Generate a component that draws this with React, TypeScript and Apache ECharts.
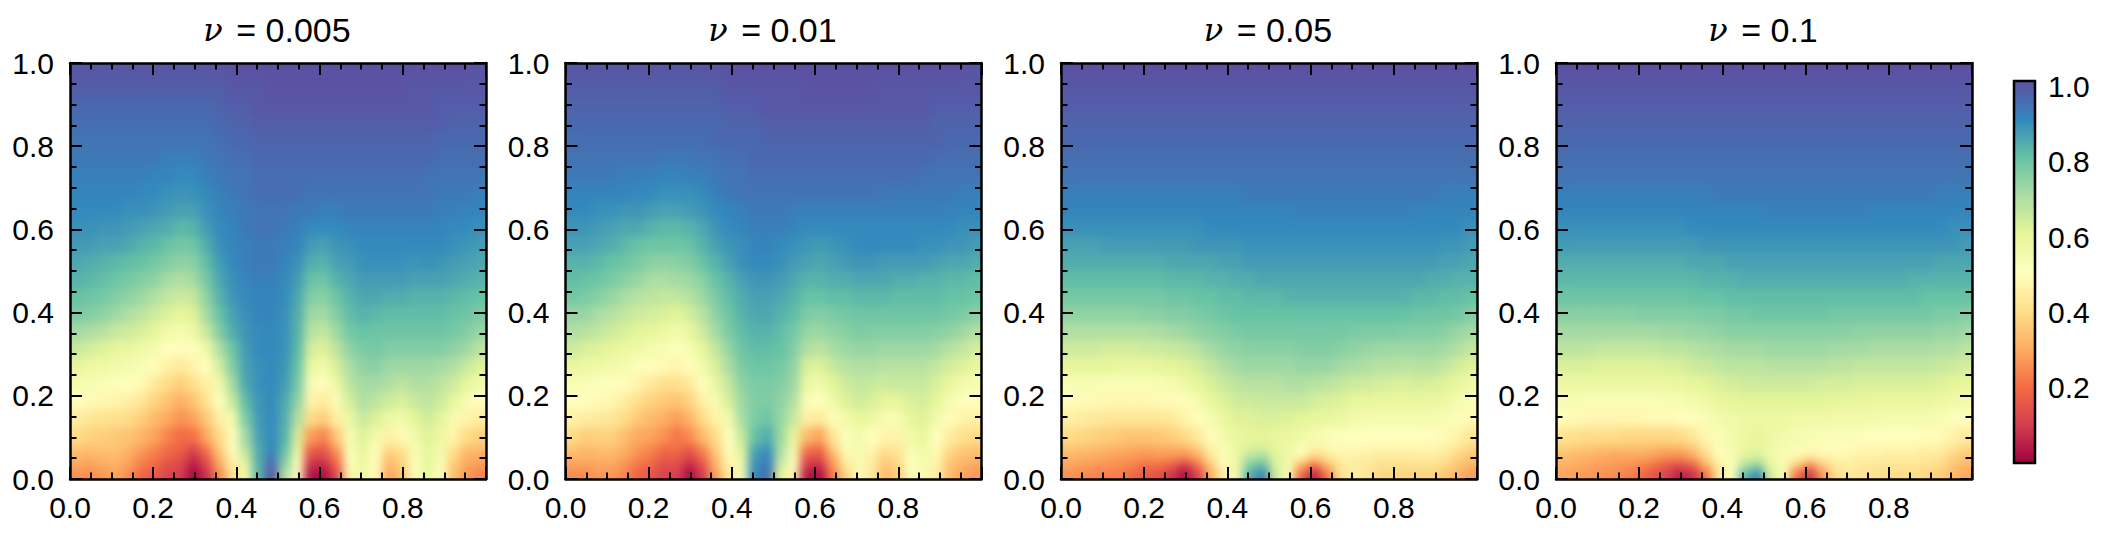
import React, { useEffect, useRef } from "react";
import * as echarts from "echarts";

const titles = ["0.005", "0.01", "0.05", "0.1"];
const colorStops = ["#9e0142", "#d53e4f", "#f46d43", "#fdae61", "#fee08b", "#ffffbf", "#e6f598", "#abdda4", "#66c2a5", "#3288bd", "#5e4fa2"];

// Percent values, rows from y = 1 (top) down to y = 0, 32 columns from x = 0.
// The 22 upper rows are 1/24 tall, the 4 lowest rows 1/48 tall.
const rowHeights = [2, 2, 2, 2, 2, 2, 2, 2, 2, 2, 2, 2, 2, 2, 2, 2, 2, 2, 2, 2, 2, 2, 1, 1, 1, 1];

const panelA = [
[100,100,100,100,100,100,100,100,100,100,100,100,101,101,101,101,101,101,101,101,101,101,101,101,101,101,101,101,101,101,101,100],
[99,99,99,99,99,99,99,99,99,99,99,99,100,100,100,101,101,101,101,101,101,101,101,101,101,101,100,100,100,100,100,100],
[97,97,97,97,97,97,97,97,97,97,97,98,99,99,100,100,100,100,100,100,100,100,100,100,100,100,100,100,99,99,99,99],
[96,96,96,96,96,96,96,96,96,96,96,97,98,98,99,99,99,99,99,99,99,99,99,99,99,99,99,99,99,98,98,98],
[95,95,95,95,95,95,95,95,95,95,95,96,97,97,98,98,98,98,98,98,98,98,98,98,98,98,98,98,97,97,97,97],
[94,94,94,94,94,94,94,93,93,93,94,95,96,96,97,97,97,97,97,97,97,97,97,97,97,97,97,97,96,96,96,96],
[93,93,93,93,93,93,92,92,91,91,93,94,95,95,96,96,96,96,96,96,96,96,96,96,96,96,96,95,95,95,95,95],
[92,92,92,92,92,91,91,90,89,90,91,93,94,95,96,96,96,96,95,95,95,95,95,95,95,95,95,95,94,94,94,93],
[91,91,91,91,90,90,89,88,87,87,90,92,93,94,95,95,95,94,94,93,93,94,94,94,94,94,94,94,93,93,92,92],
[90,90,89,89,88,87,86,85,83,84,88,91,92,94,95,95,94,93,91,91,91,92,92,92,92,92,92,92,92,91,91,90],
[88,88,87,87,86,84,83,81,79,80,85,90,92,93,94,94,93,92,88,87,89,90,91,91,91,91,91,91,91,90,89,88],
[86,85,84,83,82,81,79,77,75,76,82,88,91,93,94,94,92,90,85,84,87,88,90,90,90,90,89,90,89,88,87,86],
[84,83,82,80,79,77,75,72,70,72,79,86,90,92,93,93,91,88,81,80,84,86,88,88,88,88,87,87,87,86,85,84],
[81,80,79,77,75,73,70,67,65,67,75,84,89,91,92,92,91,86,77,76,80,84,86,86,85,85,84,84,84,83,82,81],
[78,77,75,73,70,68,65,62,60,62,72,81,87,90,92,92,90,85,73,72,77,82,84,83,82,82,82,82,82,81,80,78],
[72,71,69,66,65,63,60,56,55,57,66,77,85,89,91,91,90,84,69,67,73,79,81,80,80,80,80,80,80,79,77,74],
[66,64,62,60,59,57,55,51,50,52,57,70,80,88,91,91,90,83,64,62,68,75,78,79,77,77,77,77,77,75,73,68],
[60,58,57,56,55,53,50,46,44,47,51,64,77,87,90,91,89,81,59,56,63,71,75,76,73,73,73,73,72,70,66,62],
[55,54,53,52,51,49,44,40,37,41,46,56,72,86,90,91,88,79,53,50,58,68,72,72,70,68,70,70,68,65,60,56],
[50,49,48,47,46,43,38,35,31,35,42,51,66,82,89,91,86,75,47,44,53,64,70,68,65,63,66,68,65,60,54,50],
[45,43,42,41,40,37,33,30,26,29,36,46,56,78,88,91,85,70,40,37,46,58,66,63,58,56,61,65,61,54,47,45],
[40,38,37,36,35,32,29,24,20,21,30,40,50,72,87,91,84,64,28,24,36,54,62,56,46,49,56,62,58,47,40,38],
[35,34,35,35,32,28,24,20,18,12,22,37,50,69,85,92,82,58,18,16,28,53,60,51,39,42,54,60,55,42,34,33],
[32,31,32,33,30,25,22,18,15,8,17,33,49,64,85,94,79,55,13,12,23,52,59,50,35,39,53,60,55,39,31,30],
[29,28,30,31,28,22,19,14,12,4,12,29,45,60,84,97,75,52,7,6,18,50,58,50,32,37,52,60,53,36,29,27],
[26,25,27,29,25,19,16,11,10,1,8,25,41,56,84,100,70,49,3,2,13,47,58,50,29,34,52,60,52,34,27,24],
];

const panelB = [
[100,100,100,100,100,100,100,100,100,100,100,100,101,101,101,101,101,101,101,101,101,101,101,101,101,101,101,101,101,101,101,100],
[99,99,99,99,99,99,99,99,99,99,99,99,100,100,100,100,100,100,101,101,101,101,101,101,100,100,100,100,100,100,100,100],
[98,98,98,98,98,98,98,98,98,98,98,98,99,99,99,100,100,100,100,100,100,100,100,100,100,100,100,100,99,99,99,99],
[97,97,97,97,97,97,97,97,97,97,97,97,98,98,98,99,99,99,99,99,99,99,99,99,99,99,99,99,98,98,98,98],
[96,96,96,96,96,96,96,96,96,96,96,97,97,97,97,98,98,98,98,98,98,98,98,98,98,98,98,98,98,97,97,97],
[95,95,95,95,95,95,95,94,94,94,95,95,96,96,97,97,97,97,97,97,97,97,97,97,97,97,97,97,96,96,96,96],
[94,94,94,94,93,93,93,92,92,93,93,94,95,95,96,96,96,96,96,96,96,96,96,96,96,96,96,95,95,95,95,95],
[92,92,92,92,92,91,91,90,90,90,91,93,94,95,95,95,95,95,95,95,95,95,95,95,94,94,94,94,94,94,93,93],
[91,91,90,90,89,89,88,87,87,88,89,91,92,93,94,94,94,93,93,93,93,93,93,93,93,93,93,93,93,92,92,92],
[89,89,88,87,86,86,84,83,83,84,86,89,91,92,93,93,93,92,91,91,91,91,91,91,91,91,91,91,91,91,90,90],
[87,87,86,85,83,81,80,80,80,81,84,87,89,90,92,92,91,90,89,88,89,90,91,91,91,91,91,90,90,89,89,88],
[84,84,83,81,80,78,76,75,76,77,81,84,87,90,91,91,90,88,87,86,87,88,89,89,88,88,88,88,87,86,86,85],
[82,81,80,78,76,74,71,71,72,73,76,81,84,87,89,89,88,86,84,84,85,85,86,86,86,85,85,84,84,83,83,82],
[79,78,76,74,71,69,68,67,67,69,73,78,82,85,87,87,86,84,81,81,82,82,83,83,83,82,82,82,82,81,81,80],
[74,74,71,69,67,65,64,63,61,64,69,75,80,84,86,86,84,82,78,77,78,79,80,80,80,80,80,80,80,79,78,76],
[70,69,67,65,63,61,60,58,56,59,65,72,78,82,84,84,82,79,74,73,75,76,78,77,77,77,77,77,76,75,73,70],
[65,63,62,60,58,57,55,54,52,54,60,67,74,80,82,82,81,77,70,68,71,73,74,74,73,73,73,73,72,69,67,64],
[59,58,57,56,55,52,50,49,47,50,56,63,71,78,80,80,79,75,63,62,66,69,70,70,69,69,69,69,67,64,62,59],
[54,53,52,52,50,47,44,41,41,44,51,59,67,75,78,78,77,73,58,56,61,65,67,66,65,66,66,66,63,59,56,54],
[50,50,49,48,45,41,38,36,35,38,46,54,63,73,77,78,75,70,53,51,57,62,65,63,60,60,63,64,60,55,52,50],
[46,45,44,43,40,36,33,31,28,32,40,47,56,71,78,80,74,66,46,44,52,56,60,58,54,54,60,62,56,50,47,46],
[40,37,38,38,34,30,29,26,22,25,33,40,51,66,81,85,73,60,33,29,43,52,56,51,47,47,57,59,51,45,41,40],
[35,33,34,34,31,27,24,20,20,16,25,37,50,62,86,90,71,55,22,19,36,49,55,48,42,43,54,57,49,40,36,35],
[32,31,32,32,29,25,22,17,17,12,20,34,49,59,88,92,69,53,16,14,30,47,55,46,38,41,52,56,48,37,34,33],
[28,28,29,29,26,21,18,13,13,6,14,31,47,56,90,94,65,50,9,7,26,43,54,45,35,38,51,55,47,35,31,29],
[25,25,27,27,24,18,16,11,11,2,10,28,43,54,92,96,60,47,4,2,22,38,54,44,33,36,50,55,45,33,29,27],
];

const panelC = [
[101,101,101,101,101,101,101,101,101,101,101,101,101,101,101,101,101,101,101,101,101,101,101,101,101,101,101,101,101,101,101,101],
[100,100,100,100,100,100,100,100,100,100,100,100,100,100,100,100,100,100,100,100,100,100,100,100,100,100,100,100,100,100,100,100],
[99,99,99,99,99,99,99,99,99,99,99,99,99,99,99,99,99,99,99,99,99,99,99,99,99,99,99,99,99,99,99,99],
[98,98,98,98,98,98,98,98,98,98,98,98,98,98,98,98,98,98,98,98,98,98,98,98,98,98,98,98,98,98,98,98],
[97,97,97,97,97,97,97,97,97,97,97,97,97,97,97,97,97,97,97,97,97,97,97,97,97,97,97,97,97,97,97,97],
[96,96,96,96,96,96,96,96,96,96,96,96,96,96,96,96,96,96,96,96,96,96,96,96,96,96,96,96,96,96,96,96],
[95,95,95,95,95,95,95,95,95,95,95,95,95,95,95,95,95,95,95,95,95,95,95,95,95,95,95,95,95,95,95,95],
[93,93,93,93,93,93,93,93,93,93,93,93,93,93,94,94,94,94,94,94,94,94,94,94,94,94,94,94,94,93,93,93],
[92,92,92,92,92,92,92,92,92,92,92,92,92,92,92,92,92,92,93,93,93,93,93,93,93,93,93,92,92,92,92,92],
[90,90,90,90,90,90,90,90,90,90,90,91,91,91,91,91,91,91,91,91,91,91,91,91,91,91,91,91,91,91,91,90],
[87,87,87,88,88,88,88,88,88,88,89,89,89,89,90,90,90,90,90,90,90,90,90,90,90,90,90,90,90,89,89,88],
[85,85,85,85,85,85,85,85,86,86,86,86,87,87,88,88,88,88,88,88,88,88,88,88,88,88,88,88,88,87,87,86],
[82,82,82,82,82,82,82,82,83,83,83,84,84,85,85,86,86,86,86,86,86,86,86,86,86,86,86,86,85,85,84,84],
[79,79,79,79,79,79,79,79,80,80,81,81,82,82,83,83,83,84,84,84,84,84,84,84,84,84,84,83,83,82,82,81],
[75,75,75,75,75,75,76,76,77,77,78,79,80,81,81,81,81,81,81,81,81,81,81,81,81,81,81,80,80,80,79,77],
[70,70,70,70,70,70,70,71,72,73,75,76,77,78,79,79,79,79,79,79,79,79,78,78,78,78,77,77,77,76,74,72],
[65,65,65,64,64,64,65,65,66,67,69,72,74,75,76,76,76,76,77,77,77,76,75,74,73,73,73,73,73,72,70,67],
[60,60,60,60,59,59,59,60,61,62,64,67,70,72,73,73,73,73,74,74,74,72,71,70,69,69,68,69,69,67,64,62],
[54,54,54,53,53,53,53,54,55,57,60,63,66,68,69,69,69,70,70,69,68,67,65,65,64,63,63,64,63,62,59,57],
[50,49,49,48,48,48,48,49,49,52,55,59,62,65,65,66,66,66,66,64,63,62,60,60,59,59,59,59,59,58,55,53],
[46,45,44,43,43,43,43,43,44,47,50,54,59,62,62,63,63,62,61,60,59,58,56,55,55,55,55,55,55,54,52,49],
[40,39,38,37,36,35,35,36,37,40,44,50,56,59,60,61,60,59,57,55,53,52,51,51,51,51,51,51,50,49,47,43],
[35,34,33,32,31,30,29,30,30,31,36,46,53,58,63,64,59,57,51,46,48,49,49,48,47,47,47,47,47,46,42,38],
[32,31,30,29,28,27,26,27,26,25,30,42,52,59,69,72,62,57,47,37,43,46,46,45,44,44,44,45,45,43,38,35],
[29,28,27,26,25,23,20,20,16,9,19,36,49,57,78,83,63,55,30,20,32,44,45,44,41,41,41,41,41,39,35,31],
[26,25,24,23,23,19,16,14,9,2,11,30,45,55,85,93,65,53,18,5,22,41,45,43,39,38,38,38,38,35,32,28],
];

const panelD = [
[101,101,101,101,101,101,101,101,101,101,101,101,101,101,101,101,101,101,101,101,101,101,101,101,101,101,101,101,101,101,101,101],
[100,100,100,100,100,100,100,100,100,100,100,100,100,100,100,100,100,100,100,100,100,100,100,100,100,100,100,100,100,100,100,100],
[99,99,99,99,99,99,99,99,99,99,99,99,99,99,99,99,99,99,99,99,99,99,99,99,99,99,99,99,99,99,99,99],
[98,98,98,98,98,98,98,98,98,98,98,98,98,98,98,98,98,98,98,98,98,98,98,98,98,98,98,98,98,98,98,98],
[97,97,97,97,97,97,97,97,97,97,97,97,97,97,97,97,97,97,97,97,97,97,97,97,97,97,97,97,97,97,97,97],
[96,96,96,96,96,96,96,96,96,96,96,96,96,96,96,96,96,96,96,96,96,96,96,96,96,96,96,96,96,96,96,96],
[95,95,95,95,95,95,95,95,95,95,95,95,95,95,95,95,95,95,95,95,95,95,95,95,95,95,95,95,95,95,95,95],
[93,93,93,93,93,93,93,93,93,93,93,93,94,94,94,94,94,94,94,94,94,94,94,94,94,94,94,94,94,93,93,93],
[92,92,92,92,92,92,92,92,92,92,92,92,92,92,92,92,93,93,93,93,93,93,93,93,92,92,92,92,92,92,92,92],
[90,90,90,90,90,90,90,90,90,90,91,91,91,91,91,91,91,91,91,91,91,91,91,91,91,91,91,91,91,91,90,90],
[88,88,88,88,88,88,88,88,88,88,88,89,89,89,89,89,89,89,89,89,89,89,89,89,89,89,89,89,89,89,89,88],
[85,85,85,85,85,85,85,85,85,85,86,86,86,87,87,87,87,87,87,87,87,87,87,87,87,87,87,87,87,86,86,86],
[83,83,83,83,83,83,83,83,83,83,83,84,84,84,85,85,85,85,85,85,85,85,85,85,85,85,85,84,84,84,84,84],
[80,80,80,80,80,80,80,80,80,80,81,81,81,82,82,82,82,82,82,82,82,82,82,82,82,82,82,82,81,81,81,81],
[76,76,76,76,76,76,77,77,77,77,77,78,78,79,79,80,80,80,80,80,80,79,79,79,79,79,79,79,79,78,78,77],
[72,72,72,72,72,72,72,72,73,73,74,74,75,76,76,76,76,76,76,76,76,76,76,75,75,75,75,75,75,74,74,73],
[68,68,68,67,67,67,67,67,68,68,69,70,71,72,72,72,73,73,73,73,73,72,72,72,71,71,71,71,71,70,70,68],
[63,63,63,62,62,62,62,62,63,63,65,66,67,68,68,68,69,69,69,69,69,68,68,67,67,67,67,67,67,66,65,64],
[58,58,58,58,58,58,58,58,58,59,60,61,63,64,65,65,65,65,65,65,64,64,64,63,63,63,63,63,63,62,61,60],
[54,54,53,53,53,53,53,53,54,54,56,57,59,60,61,61,61,61,61,61,61,60,60,60,59,59,59,59,59,58,57,56],
[50,49,48,48,48,48,48,49,49,50,51,53,56,57,58,58,58,58,57,57,57,56,56,56,56,55,55,55,55,54,52,51],
[42,41,40,40,40,39,39,39,39,40,43,48,53,56,58,60,58,56,55,54,53,53,53,52,51,51,51,51,50,49,47,44],
[37,36,35,34,33,33,33,32,31,31,35,43,51,55,59,60,57,54,52,49,50,50,50,48,48,47,47,47,46,46,42,39],
[33,32,31,30,29,29,29,28,25,25,29,39,49,53,62,64,57,54,48,44,46,48,47,46,46,45,45,45,44,43,38,35],
[31,30,29,28,27,26,24,20,16,12,16,30,45,52,70,76,60,54,36,24,35,44,45,44,43,42,42,42,41,40,35,32],
[29,28,27,26,25,23,20,15,11,5,8,20,42,52,83,92,64,54,20,8,27,40,44,42,41,40,40,40,39,37,33,29],
];

const panels = [panelA, panelB, panelC, panelD];
const plotLefts = [70, 565.5, 1061, 1556];
const plotTop = 63;
const plotSize = 416;
const PAD_PX = 24;
const VMAX = 1.015;
const font = "'Liberation Sans', Arial, sans-serif";

function heatOption(rows: number[][]) {
  const nCol = rows[0].length;
  const pad = PAD_PX / plotSize;
  const unit = rowHeights.reduce((a, b) => a + b, 0);
  const data: number[][] = [];
  let top = 1;
  rows.forEach((row, r) => {
    const bottom = top - rowHeights[r] / unit;
    row.forEach((v, c) => {
      const x0 = c === 0 ? -pad : c / nCol;
      const x1 = c === nCol - 1 ? 1 + pad : (c + 1) / nCol;
      const y0 = r === rows.length - 1 ? -pad : bottom;
      const y1 = r === 0 ? 1 + pad : top;
      data.push([x0, x1, y0, y1, v / 100]);
    });
    top = bottom;
  });
  return {
    animation: false,
    grid: { left: 0, right: 0, top: 0, bottom: 0 },
    xAxis: { type: "value", min: -pad, max: 1 + pad, show: false },
    yAxis: { type: "value", min: -pad, max: 1 + pad, show: false },
    visualMap: { show: false, min: 0, max: VMAX, dimension: 4, seriesIndex: 0, inRange: { color: colorStops } },
    series: [
      {
        type: "custom",
        silent: true,
        clip: false,
        data,
        encode: { x: [0, 1], y: [2, 3] },
        renderItem: (_: any, api: any) => {
          const a = api.coord([api.value(0), api.value(3)]);
          const b = api.coord([api.value(1), api.value(2)]);
          return {
            type: "rect",
            shape: { x: a[0], y: a[1], width: b[0] - a[0] + 1, height: b[1] - a[1] + 1 },
            style: { fill: api.visual("color"), stroke: "none" },
          };
        },
      },
    ],
  };
}

function frameOption() {
  const grids: any[] = [];
  const xAxes: any[] = [];
  const yAxes: any[] = [];
  const series: any[] = [];
  const title: any[] = [];
  const tick = { show: true, inside: true, length: 12, lineStyle: { color: "#000", width: 2 } };
  const minor = { show: true, splitNumber: 4, length: 6.5, lineStyle: { color: "#000", width: 2 } };
  const line = { show: true, onZero: false, lineStyle: { color: "#000", width: 2.5 } };
  const label = { color: "#000", fontSize: 30, fontFamily: font, margin: 13 };
  plotLefts.forEach((left, i) => {
    grids.push({ left, top: plotTop, width: plotSize, height: plotSize });
    const base = { type: "value", min: 0, max: 1, interval: 0.2, gridIndex: i, axisLine: line, axisTick: tick, minorTick: minor, splitLine: { show: false } };
    xAxes.push({ ...base, position: "bottom", axisLabel: { ...label, formatter: (v: number) => (v > 0.9 ? "" : v.toFixed(1)) } });
    xAxes.push({ ...base, position: "top", axisLabel: { show: false } });
    yAxes.push({ ...base, position: "left", axisLabel: { ...label, margin: 16, padding: [5, 0, 0, 0], formatter: (v: number) => v.toFixed(1) } });
    yAxes.push({ ...base, position: "right", axisLabel: { show: false } });
    series.push({ type: "line", xAxisIndex: i * 2, yAxisIndex: i * 2, data: [], silent: true });
    title.push({
      text: "{i|ν} = " + titles[i],
      left: left + plotSize / 2 - 6,
      top: 8,
      textAlign: "center",
      textStyle: {
        color: "#000",
        fontSize: 34,
        fontWeight: "normal",
        fontFamily: font,
        rich: { i: { fontFamily: "'DejaVu Serif', serif", fontStyle: "italic", fontSize: 32, color: "#000", padding: [0, 4, 0, 0] } },
      },
    });
  });
  // colour bar
  grids.push({ left: 2014, top: 81, width: 21, height: 382 });
  xAxes.push({ type: "value", gridIndex: 4, min: 0, max: 1, show: false });
  yAxes.push({
    type: "value",
    gridIndex: 4,
    min: 0,
    max: VMAX,
    interval: 0.2,
    position: "right",
    axisLine: { show: false },
    axisTick: { show: false },
    splitLine: { show: false },
    axisLabel: { ...label, margin: 13, formatter: (v: number) => (v < 0.1 || v > 1.005 ? "" : v.toFixed(1)) },
  });
  const graphic = [
    {
      type: "rect",
      shape: { x: 2014, y: 81, width: 21, height: 382 },
      style: {
        fill: new echarts.graphic.LinearGradient(
          0, 1, 0, 0,
          colorStops.map((color, k) => ({ offset: k / (colorStops.length - 1), color }))
        ),
        stroke: "#000",
        lineWidth: 2.5,
      },
    },
  ];
  return { animation: false, backgroundColor: "transparent", title, grid: grids, xAxis: xAxes, yAxis: yAxes, series, graphic };
}

function HeatLayer({ rows, left }: { rows: number[][]; left: number }) {
  const ref = useRef<HTMLDivElement>(null);
  useEffect(() => {
    const chart = echarts.init(ref.current!, undefined, { renderer: "svg" });
    chart.setOption(heatOption(rows));
    return () => chart.dispose();
  }, []);
  return (
    <div style={{ position: "absolute", left, top: plotTop, width: plotSize, height: plotSize, overflow: "hidden" }}>
      <div
        ref={ref}
        style={{
          position: "absolute",
          left: -PAD_PX,
          top: -PAD_PX,
          width: plotSize + 2 * PAD_PX,
          height: plotSize + 2 * PAD_PX,
          filter: "blur(5px)",
        }}
      />
    </div>
  );
}

export default function App() {
  const ref = useRef<HTMLDivElement>(null);
  useEffect(() => {
    const chart = echarts.init(ref.current!, undefined, { renderer: "svg" });
    chart.setOption(frameOption());
    return () => chart.dispose();
  }, []);
  return (
    <div style={{ position: "absolute", left: 0, top: 0, width: 2103, height: 537, background: "#fff", overflow: "hidden" }}>
      {panels.map((rows, i) => (
        <HeatLayer key={i} rows={rows} left={plotLefts[i]} />
      ))}
      <div ref={ref} style={{ position: "absolute", left: 0, top: 0, width: 2103, height: 537 }} />
    </div>
  );
}
